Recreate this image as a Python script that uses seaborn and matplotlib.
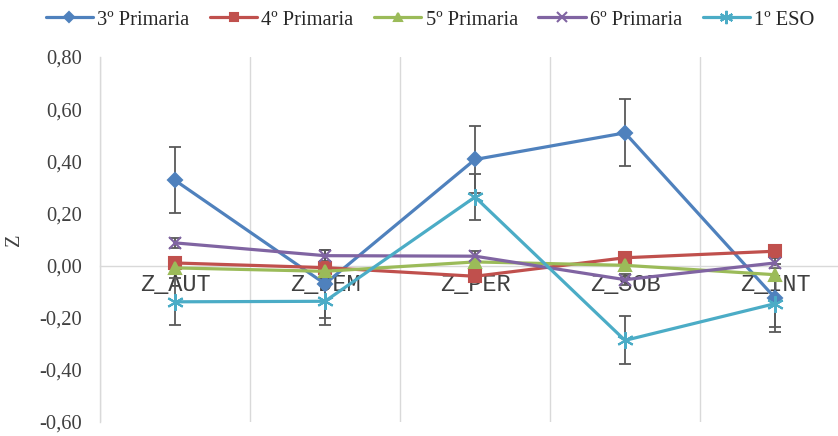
import matplotlib
matplotlib.use("Agg")
import matplotlib.pyplot as plt
from matplotlib.ticker import FixedLocator, FuncFormatter
import seaborn as sns
import pandas as pd

# datos
categorias = ["Z_AUT", "Z_DEM", "Z_PER", "Z_SOB", "Z_INT"]
cursos = ["3º Primaria", "4º Primaria", "5º Primaria", "6º Primaria", "1º ESO"]

primaria3 = [0.327, -0.070, 0.407, 0.509, -0.124]
primaria4 = [0.010, -0.008, -0.041, 0.030, 0.055]
primaria5 = [-0.009, -0.022, 0.014, 0.001, -0.035]
primaria6 = [0.087, 0.038, 0.036, -0.054, 0.010]
eso1 = [-0.139, -0.137, 0.263, -0.287, -0.146]

# barras de error (solo algunas series)
err3 = [0.127, 0.130, 0.130, 0.128, 0.130]
err6 = [0.020, 0.020, 0.020, 0.020, 0.020]
err_eso = [0.090, 0.090, 0.090, 0.092, 0.090]

valores = [primaria3, primaria4, primaria5, primaria6, eso1]
errores = [err3, None, None, err6, err_eso]
colores = ["#4F81BD", "#C0504D", "#9BBB59", "#8064A2", "#4BACC6"]
marcadores = ["D", "s", "^", "x", (6, 2, 0)]
tam_marcador = [7, 8, 8, 9, 12]

sns.set_style("white")
plt.rcParams["font.family"] = ["Liberation Serif", "DejaVu Serif"]
plt.rcParams["font.monospace"] = ["Liberation Mono", "DejaVu Sans Mono"]

fig = plt.figure(figsize=(8.38, 4.36), dpi=100)
ax = fig.add_axes([100 / 838, 14 / 436, 750 / 838, 365 / 436])

pos = list(range(len(categorias)))
for i, curso in enumerate(cursos):
    df = pd.DataFrame({"pos": pos, "z": valores[i]})
    sns.lineplot(data=df, x="pos", y="z", ax=ax, color=colores[i],
                 marker=marcadores[i], markersize=tam_marcador[i],
                 markeredgecolor=colores[i], markeredgewidth=1.5,
                 linewidth=2.3, label=curso, zorder=3, sort=False)
    if errores[i] is not None:
        ax.errorbar(pos, valores[i], yerr=errores[i], fmt="none",
                    ecolor="#595959", elinewidth=1.3, capsize=4.5,
                    capthick=1.3, zorder=2)

ax.set_xlim(-0.5, 4.5)
ax.set_ylim(-0.6, 0.8)

# eje de categorias en cero
ax.spines["bottom"].set_position(("data", 0))
for s in ["top", "right"]:
    ax.spines[s].set_visible(False)
ax.spines["bottom"].set_color("#D9D9D9")
ax.spines["left"].set_color("#D9D9D9")
ax.spines["bottom"].set_linewidth(1.0)
ax.spines["left"].set_linewidth(1.0)

ax.set_xticks(pos)
ax.set_xticklabels(categorias, fontfamily="monospace", fontsize=17,
                   color="#404040")
ax.xaxis.set_minor_locator(FixedLocator([-0.5, 0.5, 1.5, 2.5, 3.5, 4.5]))
ax.grid(True, which="minor", axis="x", color="#D9D9D9", linewidth=1.0)
ax.grid(False, which="major")
ax.tick_params(axis="x", which="both", length=0, pad=5)

ax.set_yticks([-0.6, -0.4, -0.2, 0.0, 0.2, 0.4, 0.6, 0.8])
ax.yaxis.set_major_formatter(FuncFormatter(lambda v, p: f"{v:.2f}".replace(".", ",")))
ax.tick_params(axis="y", length=0, pad=13, labelsize=14.8, labelcolor="#404040")
ax.set_xlabel("")
ax.set_ylabel("Z", fontsize=14.8, color="#404040")
ax.yaxis.set_label_coords(-76 / 750, 0.5)

ax.legend(loc="center", bbox_to_anchor=(430 / 838, 1 - 20 / 436),
          bbox_transform=fig.transFigure, ncol=5, frameon=False,
          fontsize=14.8, handlelength=2.3, handletextpad=0.2,
          columnspacing=1.0, borderaxespad=0, markerscale=0.8)

fig.savefig("out.png", dpi=100)
